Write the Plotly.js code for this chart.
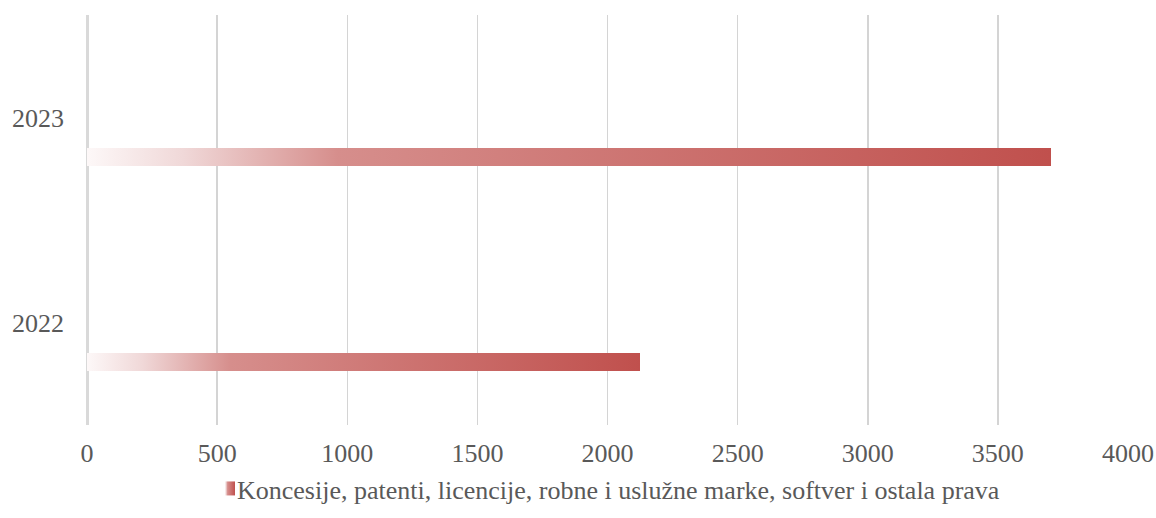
<!DOCTYPE html>
<html>
<head>
<meta charset="utf-8">
<script src="https://cdn.plot.ly/plotly-3.0.1.min.js"></script>
<style>
  html, body { margin: 0; padding: 0; background: #fff; }
  #chart { width: 1156px; height: 518px; }
</style>
</head>
<body>
<div id="chart"></div>
<script>
const categories = ['2022', '2023'];
const values = [2125, 3705];
const seriesName = 'Koncesije, patenti, licencije, robne i uslužne marke, softver i ostala prava';
const xTicks = [0, 500, 1000, 1500, 2000, 2500, 3000, 3500, 4000];

const textColor = '#595959';
const fontFamily = '"Liberation Serif", "DejaVu Serif", serif';
const fontSize = 26;

const trace = {
  type: 'bar',
  orientation: 'h',
  y: categories,
  x: values,
  name: seriesName,
  width: 0.085,
  offset: -0.235,
  marker: { color: '#c0504d', line: { width: 0 } },
  showlegend: true,
  hoverinfo: 'skip'
};

const layout = {
  width: 1156,
  height: 518,
  margin: { l: 87, r: 28, t: 15, b: 93, autoexpand: false },
  paper_bgcolor: '#ffffff',
  plot_bgcolor: '#ffffff',
  font: { family: fontFamily, size: fontSize, color: textColor },
  xaxis: {
    range: [0, 4000],
    tickvals: xTicks,
    ticktext: xTicks.map(String),
    showgrid: true,
    gridcolor: '#d4d4d4',
    gridwidth: 1.5,
    zeroline: true,
    zerolinecolor: '#d9d9d9',
    zerolinewidth: 3,
    showline: false,
    ticks: '',
    ticklabelstandoff: 10,
    tickfont: { family: fontFamily, size: fontSize, color: textColor },
    fixedrange: true,
    automargin: false
  },
  yaxis: {
    type: 'category',
    categoryorder: 'array',
    categoryarray: categories,
    range: [-0.5, 1.5],
    showgrid: false,
    zeroline: false,
    showline: false,
    ticks: '',
    ticklabelstandoff: 22,
    tickfont: { family: fontFamily, size: fontSize, color: textColor },
    fixedrange: true,
    automargin: false
  },
  showlegend: true,
  legend: {
    orientation: 'h',
    x: 0.5,
    xanchor: 'center',
    y: -0.155,
    yanchor: 'middle',
    font: { family: fontFamily, size: fontSize, color: textColor },
    itemwidth: 30,
    bgcolor: 'rgba(0,0,0,0)'
  },
  bargap: 0
};

function applyGradient() {
  const gd = document.getElementById('chart');
  const svg = gd.querySelector('svg.main-svg');
  if (!svg) return;
  const ns = 'http://www.w3.org/2000/svg';
  let defs = svg.querySelector('defs');
  if (!defs) { defs = document.createElementNS(ns, 'defs'); svg.insertBefore(defs, svg.firstChild); }
  const grad = document.createElementNS(ns, 'linearGradient');
  grad.setAttribute('id', 'barGrad');
  grad.setAttribute('x1', '0'); grad.setAttribute('y1', '0');
  grad.setAttribute('x2', '1'); grad.setAttribute('y2', '0');
  const stops = [[0, '#fdf8f8'], [0.1, '#f0d8d8'], [0.26, '#d68e8c'], [1, '#c0504d']];
  stops.forEach(([o, c]) => {
    const s = document.createElementNS(ns, 'stop');
    s.setAttribute('offset', o);
    s.setAttribute('stop-color', c);
    grad.appendChild(s);
  });
  defs.appendChild(grad);
  gd.querySelectorAll('.barlayer .point path').forEach(p => { p.style.fill = 'url(#barGrad)'; });

  // tighten legend: narrow symbol, text right next to it
  const legend = gd.querySelector('.legend');
  if (!legend) return;
  let shift = 0;
  legend.querySelectorAll('.legendpoints path').forEach(p => {
    p.setAttribute('d', 'M5,7H-5V-7H5Z');
    p.style.fill = 'url(#barGrad)';
  });
  legend.querySelectorAll('.legendtext').forEach(t => {
    const oldX = parseFloat(t.getAttribute('x')) || 40;
    const newX = 27;
    shift = oldX - newX;
    t.setAttribute('x', newX);
    t.querySelectorAll('tspan').forEach(ts => { if (ts.getAttribute('x')) ts.setAttribute('x', newX); });
  });
  const tr = legend.getAttribute('transform') || '';
  const m = tr.match(/translate\(\s*([-\d.]+)[ ,]+([-\d.]+)\s*\)/);
  if (m) {
    legend.setAttribute('transform', 'translate(' + (parseFloat(m[1]) + shift / 2) + ',' + m[2] + ')');
  }
}

Plotly.newPlot('chart', [trace], layout, { staticPlot: true, displayModeBar: false }).then(applyGradient);
</script>
</body>
</html>
